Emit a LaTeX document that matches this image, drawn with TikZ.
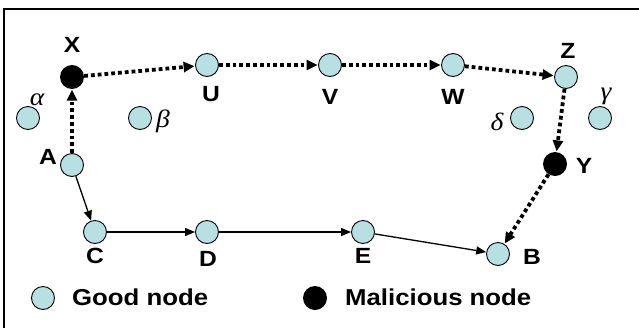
\documentclass[tikz,border=0pt]{standalone}
\usepackage{fontspec}
\setmainfont{Liberation Sans}[FakeStretch=1.12]
\newfontfamily\grk{Liberation Serif}[FakeStretch=1.1]
\usetikzlibrary{arrows.meta}
\definecolor{goodfill}{RGB}{184,224,226}
\tikzset{
  good/.style={circle,draw=black,line width=0.9pt,fill=goodfill,minimum size=23pt,inner sep=0pt},
  bad/.style={circle,fill=black,minimum size=24pt,inner sep=0pt},
  lbl/.style={font=\fontsize{22}{22}\selectfont\bfseries,inner sep=0pt},
  grklbl/.style={font=\fontsize{25}{25}\selectfont\grk\itshape,inner sep=0pt,anchor=base},
  leg/.style={font=\fontsize{23}{23}\selectfont\bfseries,inner sep=0pt,anchor=base west},
  dotarr/.style={line width=3.8pt,dash pattern=on 3.8pt off 3pt,-{Triangle[length=11pt,width=10pt]},shorten >=0.5pt},
  solarr/.style={line width=1.3pt,-{Triangle[length=10pt,width=8pt]}}
}
\begin{document}
\begin{tikzpicture}[x=1pt,y=-1pt]
\useasboundingbox (0,0) rectangle (639,327);
\draw[line width=2pt] (4,330) -- (4,9) -- (639,9);
% nodes
\node[bad]  (X) at (72,77) {};
\node[good] (U) at (207,65) {};
\node[good] (V) at (330,65) {};
\node[good] (W) at (453,65) {};
\node[good] (Z) at (566,77) {};
\node[bad]  (Y) at (555,164) {};
\node[good] (A) at (72,165) {};
\node[good] (C) at (95,232) {};
\node[good] (D) at (207,232) {};
\node[good] (E) at (363,232) {};
\node[good] (B) at (498,254) {};
\node[good] (al) at (28,118) {};
\node[good] (be) at (140,118) {};
\node[good] (de) at (522,118) {};
\node[good] (ga) at (600,118) {};
% labels
\node[lbl] (lX) at (72,45) {X};
\node[lbl] (lU) at (211,94) {U};
\node[lbl] (lV) at (330,97) {V};
\node[lbl] (lW) at (453,97) {W};
\node[lbl] (lZ) at (568,51) {Z};
\node[lbl] (lY) at (584,166) {Y};
\node[lbl] (lA) at (48,157) {A};
\node[lbl] (lC) at (95,256) {C};
\node[lbl] (lD) at (208,259) {D};
\node[lbl] (lE) at (363,256) {E};
\node[lbl] (lB) at (532,257) {B};
\node[grklbl] (lal) at (37,105) {α};
\node[grklbl] (lbe) at (163,127) {β};
\node[grklbl] (lde) at (497,130) {δ};
\node[grklbl] (lga) at (606,99) {γ};
% edges
\draw[dotarr] (A) -- (X);
\draw[dotarr] (X) -- (U);
\draw[dotarr] (U) -- (V);
\draw[dotarr] (V) -- (W);
\draw[dotarr] (W) -- (Z);
\draw[dotarr] (Z) -- (Y);
\draw[dotarr] (Y) -- (B);
\draw[solarr] (A) -- (C);
\draw[solarr] (C) -- (D);
\draw[solarr] (D) -- (E);
\draw[solarr] (E) -- (B);
% legend
\node[good] (lg1) at (43,298) {};
\node[leg] (lg1t) at (72,305) {Good node};
\node[bad] (lg2) at (315,298) {};
\node[leg] (lg2t) at (345,305) {Malicious node};
\end{tikzpicture}
\end{document}
